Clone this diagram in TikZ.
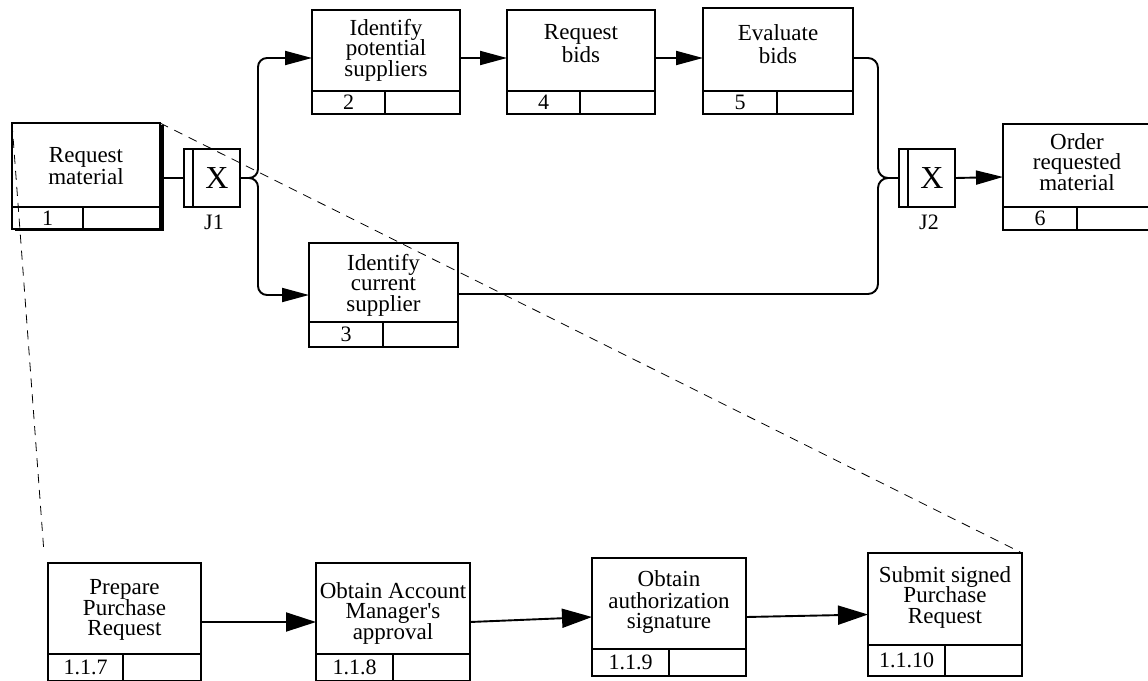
\documentclass[tikz,border=0pt]{standalone}
\usepackage{fontspec}
\setmainfont{Liberation Serif}
\usetikzlibrary{arrows.meta,calc}
% #1 name, #2 top-left, #3 width, #4 height, #5 upper-part height,
% #6 number-cell width, #7 text centre below top, #8 text, #9 number
\newcommand\uob[9]{%
  \pgfmathsetmacro\uobNx{#6/2}%
  \pgfmathsetmacro\uobNy{(#4-#5)/2}%
  \node[uob, minimum width=#3pt, minimum height=#4pt, anchor=north west] (#1) at #2 {};
  \coordinate (#1-dl) at ($(#1.north west)+(0,#5)$);
  \coordinate (#1-dr) at ($(#1.north east)+(0,#5)$);
  \draw[conn] (#1-dl) -- (#1-dr);
  \draw[conn] ($(#1-dl)+(#6,0)$) -- ($(#1.south west)+(#6,0)$);
  \node[lbl] (#1-t) at ($(#1.north)+(0,#7)$) {#8};
  \node[numlbl] (#1-n) at ($(#1-dl)+(\uobNx,\uobNy)$) {#9};
}
\newcommand\junc[4]{%
  \node[uob, minimum width=56pt, minimum height=58pt, anchor=north west] (#1) at #2 {};
  \draw[conn] ($(#1.north west)+(9,0)$) -- ($(#1.south west)+(9,0)$);
  \node[xlbl] (#1-x) at ($(#1.center)+(5,0)$) {#3};
  \node[numlbl] (#1-l) at ($(#1.south)+(2,15)$) {#4};
}
\newcommand\lblfont{\fontsize{23}{20.5}\selectfont\lineskiplimit=-30pt\relax}
\newcommand\numfont{\fontsize{22}{22}\selectfont}
\begin{document}
\begin{tikzpicture}[x=1pt,y=-1pt,
  uob/.style={draw, line width=1.9pt, inner sep=0pt, outer sep=0pt},
  lbl/.style={font=\lblfont, align=center, inner sep=0pt},
  numlbl/.style={font=\numfont, inner sep=0pt},
  xlbl/.style={font={\fontsize{32}{32}\selectfont}, inner sep=0pt},
  conn/.style={line width=1.9pt},
  arrS/.style={-{Triangle[length=27pt,width=14pt]}},
  arrL/.style={-{Triangle[length=30pt,width=19pt]}},
  dashline/.style={line width=0.8pt, dash pattern=on 9pt off 7pt},
  ]
\useasboundingbox (0,0) rectangle (1148,680);
\clip (0,0) rectangle (1148,680);
\fill[white] (0,0) rectangle (1148,680);

% top level
\uob{rm}{(12,123)}{148}{106}{84}{71}{43}{Request\\[1pt]material}{1}
\draw[line width=4pt] ($(rm.north east)+(1.5,2)$) -- ($(rm.south east)+(1.5,1)$);
\draw[line width=2.5pt] ($(rm.south west)+(3,1)$) -- ($(rm.south east)+(3.5,1)$);

\uob{b2}{(312,10)}{148}{104}{81}{73}{40}{Identify\\potential\\suppliers}{2}
\uob{b4}{(507,10)}{148}{104}{81}{73}{34}{Request\\[2.5pt]bids}{4}
\uob{b5}{(703,8)}{150}{106}{83}{74}{36}{Evaluate\\[2.5pt]bids}{5}
\uob{b3}{(309,243)}{149}{104}{79}{74}{42}{Identify\\current\\supplier}{3}
\uob{b6}{(1003,124)}{148}{106}{83}{74}{38}{Order\\requested\\material}{6}

\junc{j1}{(184,149)}{X}{J1}
\junc{j2}{(899,149)}{X}{J2}

% bottom level
\uob{b117}{(48,563)}{153}{118}{91}{75}{47}{Prepare\\Purchase\\Request}{1.1.7}
\uob{b118}{(316,563)}{154}{118}{91}{77}{50}{Obtain Account\\Manager\textquotesingle s\\approval}{1.1.8}
\uob{b119}{(592,558)}{154}{118}{91}{77}{44}{Obtain\\[1.5pt]authorization\\signature}{1.1.9}
\uob{b1110}{(868,553)}{154}{123}{92}{77}{44}{Submit signed\\Purchase\\Request}{1.1.10}

% connectors
\draw[conn] (j1.west) -- (j1.west -| rm.east);
\coordinate (f1) at ($(j1.east)+(18,0)$);
\draw[conn, arrS, rounded corners=9pt] (j1.east) -- (f1) |- ([yshift=4pt]b2.west);
\draw[conn, arrS, rounded corners=9pt] (j1.east) -- (f1) |- (b3.west);
\draw[conn, arrS] ([yshift=4pt]b2.east) -- ([yshift=4pt]b4.west);
\draw[conn, arrS] ([yshift=4pt]b4.east) -- ([yshift=4pt]b4.east -| b5.west);
\coordinate (m2) at ($(j2.west)+(-21,0)$);
\draw[conn, rounded corners=10pt] ([yshift=3pt]b5.east) -| (m2) -- (j2.west);
\draw[conn, rounded corners=10pt] ([yshift=1pt]b3.east) -| (m2) -- (j2.west);
\draw[conn, arrS] (j2.east) -- (b6.west);

\draw[conn, arrL] (b117.east) -- (b118.west);
\draw[conn, arrL] (b118.east) -- (b119.west);
\draw[conn, arrL] (b119.east) -- (b1110.west);

% decomposition lines
\coordinate (dl) at ($(b117.north west |- b1110.north)+(-4,0)$);
\draw[dashline] (rm.north west) -- (dl);
\draw[dashline] (rm.north east) -- (b1110.north east);
\end{tikzpicture}
\end{document}
